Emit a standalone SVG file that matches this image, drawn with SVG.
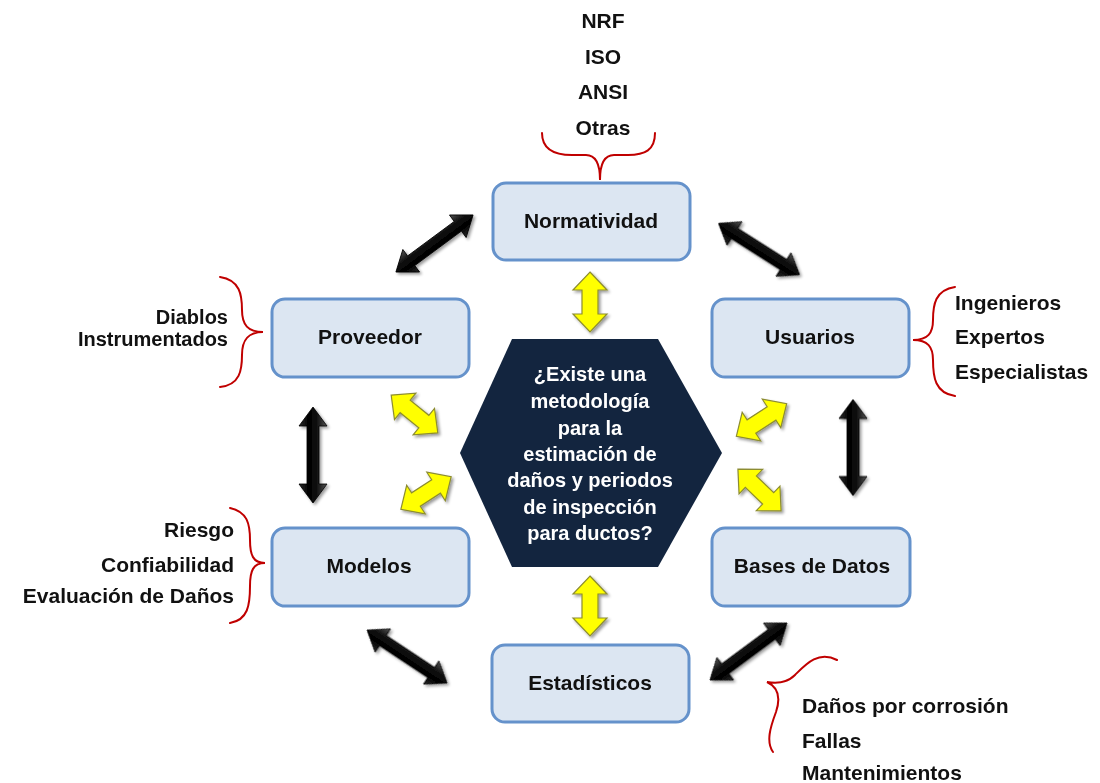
<svg xmlns="http://www.w3.org/2000/svg" width="1100" height="783" viewBox="0 0 1100 783">
<style>
  .box { fill: #dce6f2; stroke: #6592cb; stroke-width: 3; }
  .lbl { font-family: "Liberation Sans", Arial, sans-serif; font-weight: bold; font-size: 21px; fill: #111; }
  .small { font-size: 20px; }
  .mid { text-anchor: middle; }
  .end { text-anchor: end; }
  .hex { fill: #13253f; }
  .htxt { font-family: "Liberation Sans", Arial, sans-serif; font-weight: bold; font-size: 20px; fill: #fff; text-anchor: middle; }
  .brace { fill: none; stroke: #c00000; stroke-width: 2; stroke-linecap: round; }
  .yarrow { fill: #ffff00; stroke: #8c8c30; stroke-width: 1.2; stroke-linejoin: miter; }
  .barrow { fill: url(#bgrad); stroke: #000; stroke-width: 0.8; }
</style>
<defs>
  <linearGradient id="bgrad" x1="0" y1="0" x2="0" y2="1">
    <stop offset="0" stop-color="#555"/>
    <stop offset="0.35" stop-color="#111"/>
    <stop offset="0.65" stop-color="#000"/>
    <stop offset="1" stop-color="#2a2a2a"/>
  </linearGradient>
  <filter id="shadow" x="-20%" y="-40%" width="140%" height="180%">
    <feGaussianBlur in="SourceAlpha" stdDeviation="1.5"/>
    <feOffset dx="1.5" dy="2" result="b"/>
    <feComponentTransfer><feFuncA type="linear" slope="0.4"/></feComponentTransfer>
    <feMerge><feMergeNode/><feMergeNode in="SourceGraphic"/></feMerge>
  </filter>
  <path id="blackArrow" class="barrow" d="M-48,0 L-29,-14 L-29,-6 L29,-6 L29,-14 L48,0 L29,14 L29,6 L-29,6 L-29,14 Z"/>
  <path id="yellowArrow" class="yarrow" d="M-30,0 L-12,-17 L-12,-8 L12,-8 L12,-17 L30,0 L12,17 L12,8 L-12,8 L-12,17 Z"/>
</defs>

<g id="connectors">
  <g filter="url(#shadow)">
    <use href="#blackArrow" transform="translate(434.5,243.5) rotate(-36.5)"/>
    <use href="#blackArrow" transform="translate(759,249) rotate(32.4)"/>
    <use href="#blackArrow" transform="translate(313,455) rotate(90)"/>
    <use href="#blackArrow" transform="translate(853,447.5) rotate(90)"/>
    <use href="#blackArrow" transform="translate(407,656.5) rotate(33.5)"/>
    <use href="#blackArrow" transform="translate(748.5,651.5) rotate(-36.5)"/>
  </g>
  <g filter="url(#shadow)">
    <use href="#yellowArrow" transform="translate(590,302) rotate(90)"/>
    <use href="#yellowArrow" transform="translate(590,606) rotate(90)"/>
    <use href="#yellowArrow" transform="translate(414.5,414) rotate(39)"/>
    <use href="#yellowArrow" transform="translate(426,493) rotate(-33)"/>
    <use href="#yellowArrow" transform="translate(761.5,420) rotate(-33)"/>
    <use href="#yellowArrow" transform="translate(759.5,490) rotate(44)"/>
  </g>
</g>

<g id="braces">
  <path class="brace" d="M542,133 C542,150 555,155 572,155 L586,155 C596,155 600,165 600,180 C600,165 604,155 614,155 L628,155 C645,155 655,150 655,133"/>
  <path class="brace" d="M220,277 C240,280 242,295 242,310 C242,325 248,332 263,332 C248,332 242,340 242,355 C242,370 240,385 220,387"/>
  <path class="brace" d="M955,287 C935,290 933,305 933,320 C933,333 928,340 913,340 C928,340 933,347 933,360 C933,377 935,393 955,396"/>
  <path class="brace" d="M230,508 C248,512 250,525 250,540 C250,555 253,563 265,563 C253,563 250,571 250,586 C250,605 248,620 230,623"/>
  <path class="brace" d="M837,660 C818,650 805,665 795,675 C788,682 778,684 767,682 C780,688 780,700 776,712 C770,728 766,742 773,752"/>
</g>

<g id="center">
  <polygon class="hex" points="512,339 658,339 722,453 658,567 512,567 460,453"/>
  <text class="htxt" x="590" y="381">¿Existe una</text>
  <text class="htxt" x="590" y="408">metodología</text>
  <text class="htxt" x="590" y="435">para la</text>
  <text class="htxt" x="590" y="461">estimación de</text>
  <text class="htxt" x="590" y="487">daños y periodos</text>
  <text class="htxt" x="590" y="514">de inspección</text>
  <text class="htxt" x="590" y="540">para ductos?</text>
</g>

<g id="normatividad">
  <rect class="box" x="493" y="183" width="197" height="77" rx="13"/>
  <text class="lbl mid" x="591" y="228">Normatividad</text>
</g>
<g id="proveedor">
  <rect class="box" x="272" y="299" width="197" height="78" rx="13"/>
  <text class="lbl mid" x="370" y="344">Proveedor</text>
</g>
<g id="usuarios">
  <rect class="box" x="712" y="299" width="197" height="78" rx="13"/>
  <text class="lbl mid" x="810" y="344">Usuarios</text>
</g>
<g id="modelos">
  <rect class="box" x="272" y="528" width="197" height="78" rx="13"/>
  <text class="lbl mid" x="369" y="573">Modelos</text>
</g>
<g id="bases">
  <rect class="box" x="712" y="528" width="198" height="78" rx="13"/>
  <text class="lbl mid" x="812" y="573">Bases de Datos</text>
</g>
<g id="estadisticos">
  <rect class="box" x="492" y="645" width="197" height="77" rx="13"/>
  <text class="lbl mid" x="590" y="690">Estadísticos</text>
</g>

<g id="notes">
  <text class="lbl mid" x="603" y="28">NRF</text>
  <text class="lbl mid" x="603" y="64">ISO</text>
  <text class="lbl mid" x="603" y="99">ANSI</text>
  <text class="lbl mid" x="603" y="135">Otras</text>

  <text class="lbl small end" x="228" y="324">Diablos</text>
  <text class="lbl small end" x="228" y="346">Instrumentados</text>

  <text class="lbl" x="955" y="310">Ingenieros</text>
  <text class="lbl" x="955" y="344">Expertos</text>
  <text class="lbl" x="955" y="379">Especialistas</text>

  <text class="lbl end" x="234" y="537">Riesgo</text>
  <text class="lbl end" x="234" y="572">Confiabilidad</text>
  <text class="lbl end" x="234" y="603">Evaluación de Daños</text>

  <text class="lbl" x="802" y="713">Daños por corrosión</text>
  <text class="lbl" x="802" y="748">Fallas</text>
  <text class="lbl" x="802" y="780">Mantenimientos</text>
</g>
</svg>
